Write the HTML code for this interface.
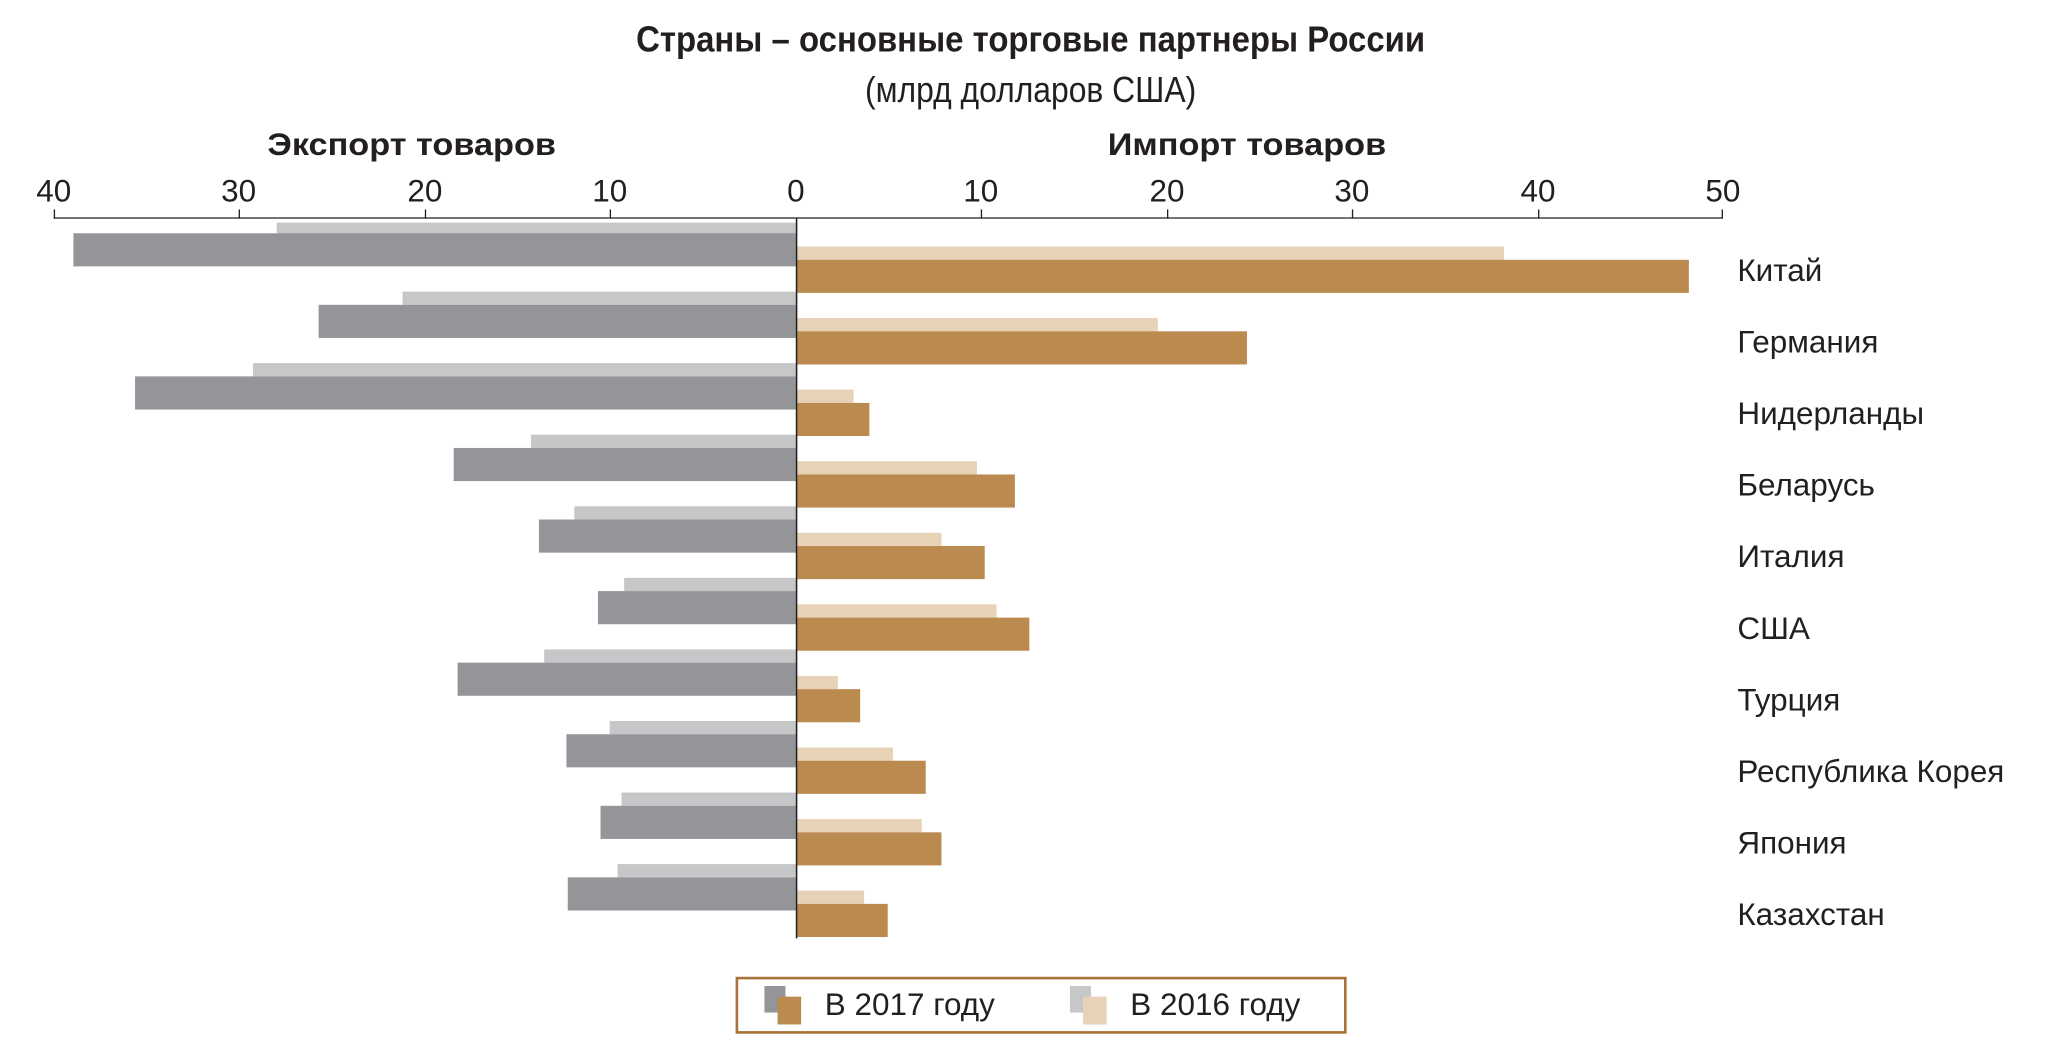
<!DOCTYPE html>
<html><head><meta charset="utf-8"><style>
html,body{margin:0;padding:0;background:#fff;}
svg{display:block;}
text{font-family:"Liberation Sans",sans-serif;fill:#231f20;}
</style></head><body>
<svg width="2056" height="1047" viewBox="0 0 1568 790" preserveAspectRatio="none" xmlns="http://www.w3.org/2000/svg">
<text x="786" y="39" text-anchor="middle" font-size="27" font-weight="bold" transform="translate(786 0) scale(0.93 1) translate(-786 0)">Страны – основные торговые партнеры России</text>
<text x="786" y="77" text-anchor="middle" font-size="27" transform="translate(786 0) scale(0.9 1) translate(-786 0)">(млрд долларов США)</text>
<text x="314" y="117" text-anchor="middle" font-size="24" font-weight="bold" transform="translate(314 0) scale(1.09 1) translate(-314 0)">Экспорт товаров</text>
<text x="951" y="117" text-anchor="middle" font-size="24" font-weight="bold" transform="translate(951 0) scale(1.09 1) translate(-951 0)">Импорт товаров</text>
<g font-size="24" text-anchor="middle">
<text x="41" y="152">40</text><text x="182" y="152">30</text><text x="324" y="152">20</text><text x="465" y="152">10</text><text x="607" y="152">0</text>
<text x="748" y="152">10</text><text x="890" y="152">20</text><text x="1031" y="152">30</text><text x="1173" y="152">40</text><text x="1314" y="152">50</text>
</g>
<g stroke="#231f20" stroke-width="1">
<line x1="41" y1="164.5" x2="1314" y2="164.5"/>
<line x1="41.5" y1="158" x2="41.5" y2="165"/><line x1="182.5" y1="158" x2="182.5" y2="165"/><line x1="324.5" y1="158" x2="324.5" y2="165"/><line x1="465.5" y1="158" x2="465.5" y2="165"/>
<line x1="748.5" y1="158" x2="748.5" y2="165"/><line x1="890.5" y1="158" x2="890.5" y2="165"/><line x1="1031.5" y1="158" x2="1031.5" y2="165"/><line x1="1173.5" y1="158" x2="1173.5" y2="165"/><line x1="1313.5" y1="158" x2="1313.5" y2="165"/>
</g>
<g transform="translate(0 -2)">
<rect x="211" y="170" width="396" height="9" fill="#c6c7c9"/><rect x="56" y="178" width="551" height="25" fill="#939598"/>
<rect x="608" y="188" width="539" height="10" fill="#e8d2b7"/><rect x="608" y="198" width="680" height="25" fill="#bb8a4f"/>

<rect x="307" y="222" width="300" height="10" fill="#c6c7c9"/><rect x="243" y="232" width="364" height="25" fill="#939598"/>
<rect x="608" y="242" width="275" height="10" fill="#e8d2b7"/><rect x="608" y="252" width="343" height="25" fill="#bb8a4f"/>

<rect x="193" y="276" width="414" height="10" fill="#c6c7c9"/><rect x="103" y="286" width="504" height="25" fill="#939598"/>
<rect x="608" y="296" width="43" height="10" fill="#e8d2b7"/><rect x="608" y="306" width="55" height="25" fill="#bb8a4f"/>

<rect x="405" y="330" width="202" height="10" fill="#c6c7c9"/><rect x="346" y="340" width="261" height="25" fill="#939598"/>
<rect x="608" y="350" width="137" height="10" fill="#e8d2b7"/><rect x="608" y="360" width="166" height="25" fill="#bb8a4f"/>

<rect x="438" y="384" width="169" height="10" fill="#c6c7c9"/><rect x="411" y="394" width="196" height="25" fill="#939598"/>
<rect x="608" y="404" width="110" height="10" fill="#e8d2b7"/><rect x="608" y="414" width="143" height="25" fill="#bb8a4f"/>

<rect x="476" y="438" width="131" height="10" fill="#c6c7c9"/><rect x="456" y="448" width="151" height="25" fill="#939598"/>
<rect x="608" y="458" width="152" height="10" fill="#e8d2b7"/><rect x="608" y="468" width="177" height="25" fill="#bb8a4f"/>

<rect x="415" y="492" width="192" height="10" fill="#c6c7c9"/><rect x="349" y="502" width="258" height="25" fill="#939598"/>
<rect x="608" y="512" width="31" height="10" fill="#e8d2b7"/><rect x="608" y="522" width="48" height="25" fill="#bb8a4f"/>

<rect x="465" y="546" width="142" height="10" fill="#c6c7c9"/><rect x="432" y="556" width="175" height="25" fill="#939598"/>
<rect x="608" y="566" width="73" height="10" fill="#e8d2b7"/><rect x="608" y="576" width="98" height="25" fill="#bb8a4f"/>

<rect x="474" y="600" width="133" height="10" fill="#c6c7c9"/><rect x="458" y="610" width="149" height="25" fill="#939598"/>
<rect x="608" y="620" width="95" height="10" fill="#e8d2b7"/><rect x="608" y="630" width="110" height="25" fill="#bb8a4f"/>

<rect x="471" y="654" width="136" height="10" fill="#c6c7c9"/><rect x="433" y="664" width="174" height="25" fill="#939598"/>
<rect x="608" y="674" width="51" height="10" fill="#e8d2b7"/><rect x="608" y="684" width="69" height="25" fill="#bb8a4f"/>
</g>
<line x1="607.5" y1="165" x2="607.5" y2="708" stroke="#231f20" stroke-width="1.2"/>
<g font-size="24">
<text x="1325" y="212">Китай</text><text x="1325" y="266">Германия</text><text x="1325" y="320">Нидерланды</text>
<text x="1325" y="374">Беларусь</text><text x="1325" y="428">Италия</text><text x="1325" y="482">США</text>
<text x="1325" y="536">Турция</text><text x="1325" y="590">Республика Корея</text><text x="1325" y="644">Япония</text><text x="1325" y="698">Казахстан</text>
</g>
<rect x="562" y="738" width="464" height="41" fill="none" stroke="#a8743a" stroke-width="2"/>
<rect x="583" y="744" width="16" height="20" fill="#939598"/><rect x="593" y="752" width="18" height="21" fill="#bb8a4f"/>
<text x="629" y="766" font-size="24">В 2017 году</text>
<rect x="816" y="744" width="16" height="20" fill="#c6c7c9"/><rect x="826" y="752" width="18" height="21" fill="#e8d2b7"/>
<text x="862" y="766" font-size="24">В 2016 году</text>
</svg>
</body></html>
